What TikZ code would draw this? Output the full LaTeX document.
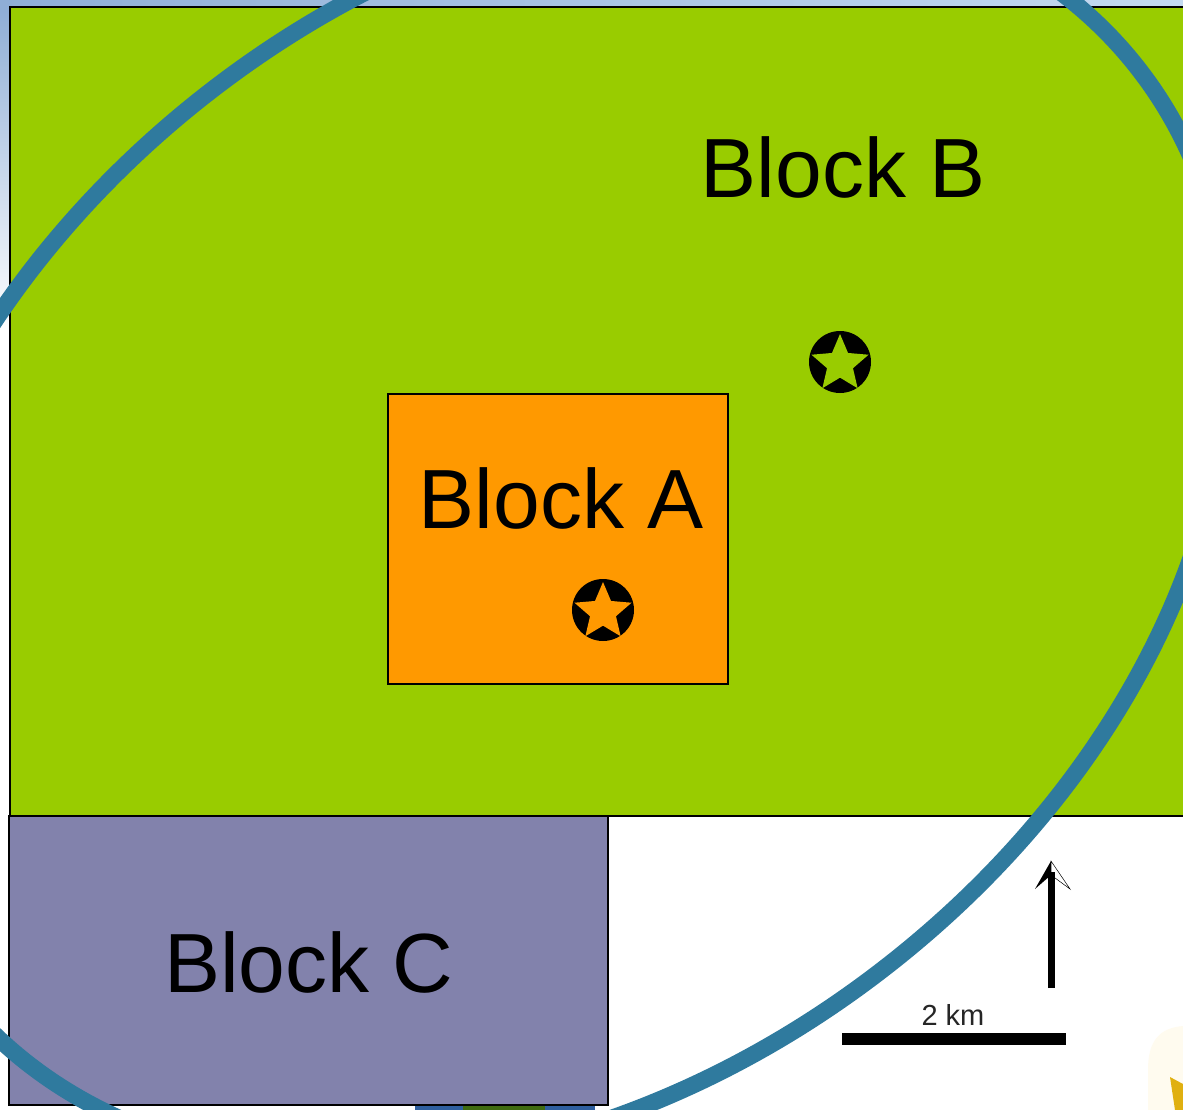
\documentclass[tikz,border=0pt]{standalone}
\usepackage{fontspec}
\setmainfont{Liberation Sans}
\usetikzlibrary{shapes.geometric}
\definecolor{blockgreen}{HTML}{99CC00}
\definecolor{blockorange}{HTML}{FF9900}
\definecolor{blockpurple}{HTML}{8282AC}
\definecolor{ringblue}{HTML}{2F7A9E}
\definecolor{skytop}{HTML}{8FAED6}
\definecolor{skyedge}{HTML}{C4DAF0}
\definecolor{stripblue}{HTML}{2F5F9E}
\definecolor{leafgreen}{HTML}{3F6B10}
\definecolor{sunyellow}{HTML}{E0B010}
\definecolor{halo}{HTML}{FFFBEF}
\tikzset{
  blockbox/.style={draw=black,line width=1.1pt,anchor=north west,inner sep=0pt,outer sep=0pt},
  blocklabel/.style={font=\fontsize{84}{84}\selectfont,text=black,inner sep=0pt},
  disc/.style={circle,fill=black,minimum size=62pt,inner sep=0pt},
  starmark/.style={star,star points=5,star point ratio=2.2,minimum size=60pt,inner sep=0pt},
}
\begin{document}
\begin{tikzpicture}[x=1pt,y=-1pt]
\useasboundingbox (0,0) rectangle (1183,1110);
\fill[white] (0,0) rectangle (1183,1110);
% backdrop behind the blocks
\shade[left color=skytop,right color=skyedge] (0,0) rectangle (1183,8);
\shade[top color=skytop,bottom color=white] (0,8) rectangle (10,330);
\fill[stripblue] (415,1100) rectangle (595,1110);
\fill[leafgreen] (463,1100) rectangle (545,1110);
\fill[halo] (1148,1070) .. controls (1148,1040) and (1160,1028) .. (1183,1026) -- (1183,1110) -- (1148,1110) -- cycle;
\fill[sunyellow] (1170,1077) -- (1183,1084) -- (1183,1110) -- (1175,1110) -- cycle;
% blocks
\node[blockbox,fill=blockgreen,minimum width=1183pt,minimum height=809pt] (B) at (10,7) {};
\node[blockbox,fill=blockorange,minimum width=340pt,minimum height=290pt] (A) at (388,394) {};
\node[blockbox,fill=blockpurple,minimum width=599pt,minimum height=289pt] (C) at (9,816) {};
\node[blocklabel] (labelB) at (843,167) {Block B};
\node[blocklabel] (labelA) at (561,498) {Block A};
\node[blocklabel] (labelC) at (309,962) {Block C};
% site markers
\node[disc] (discB) at (840,362) {};
\node[starmark,fill=blockgreen] (starB) at (840,364) {};
\node[disc] (discA) at (603,610) {};
\node[starmark,fill=blockorange] (starA) at (603,612) {};
% ring
\draw[ringblue,line width=17pt,rotate around={38:(547,530)}] (547,530) ellipse [x radius=750,y radius=553];
% north arrow
\coordinate (tail) at (1051,988);
\coordinate (shaft) at (1051,872);
\fill[black] (1051,861) -- (1035,889) -- (1051,875) -- cycle;
\draw[black,line width=0.5pt,fill=white] (1051,861) -- (1070,889) -- (1051,875) -- cycle;
\draw[black,line width=7pt] (tail) -- (shaft);
% scale bar
\coordinate (barL) at (842,1039);
\coordinate (barR) at (1066,1039);
\draw[black,line width=12pt] (barL) -- (barR);
\node[font=\fontsize{29}{29}\selectfont,text=black!85,inner sep=0pt] (scale) at (953,1015) {2 km};
\end{tikzpicture}
\end{document}
